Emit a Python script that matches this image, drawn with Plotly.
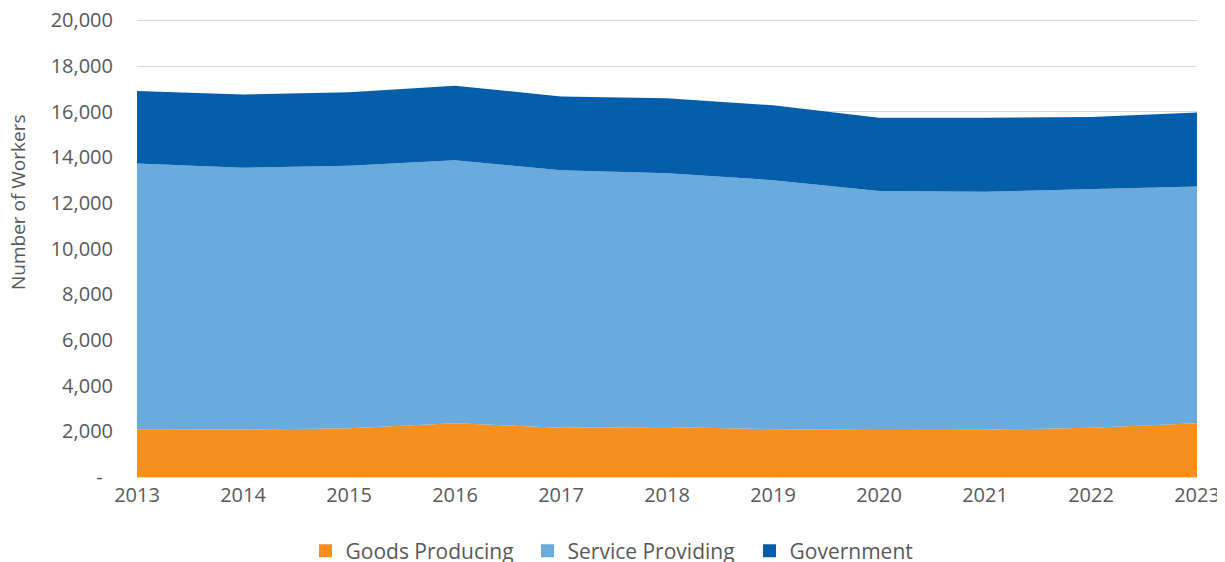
import plotly.graph_objects as go

years = [2013, 2014, 2015, 2016, 2017, 2018, 2019, 2020, 2021, 2022, 2023]
goods_producing = [2090, 2080, 2130, 2350, 2160, 2190, 2090, 2060, 2070, 2160, 2350]
service_providing = [11640, 11470, 11500, 11520, 11270, 11110, 10910, 10470, 10420, 10430, 10370]
government = [3180, 3200, 3220, 3270, 3240, 3290, 3280, 3200, 3240, 3180, 3250]

y_tick_vals = [0, 2000, 4000, 6000, 8000, 10000, 12000, 14000, 16000, 18000, 20000]
y_tick_text = ["-\u00a0\u00a0", "2,000", "4,000", "6,000", "8,000", "10,000", "12,000",
               "14,000", "16,000", "18,000", "20,000"]

series = [
    ("Goods Producing", goods_producing, "#F58F20"),
    ("Service Providing", service_providing, "#6BAADD"),
    ("Government", government, "#055EA9"),
]

# The page body adds an 8px offset; the figure is sized to fill the rest of the window.
W, H = 1217, 554
T, B = 11, 85

fig = go.Figure()
for name, vals, color in series:
    fig.add_trace(go.Scatter(
        x=years, y=vals, name=name, mode="lines",
        stackgroup="one", line=dict(width=0, color=color),
        fillcolor=color, hoverinfo="x+y+name", showlegend=False,
    ))
for name, vals, color in series:
    fig.add_trace(go.Scatter(
        x=[None], y=[None], name=name, mode="markers",
        marker=dict(symbol="square", size=13, color=color),
        showlegend=True, hoverinfo="skip",
    ))

font_family = "Open Sans, Liberation Sans, Arial, sans-serif"
fig.update_layout(
    width=W, height=H,
    margin=dict(l=129, r=28, t=T, b=B, autoexpand=False),
    paper_bgcolor="white", plot_bgcolor="white",
    font=dict(family=font_family, size=20, color="#595959"),
    showlegend=True,
    legend=dict(orientation="h", x=(638.5 - 8) / W, xanchor="center", xref="container",
                y=(H - 543) / H, yanchor="middle", yref="container",
                traceorder="normal", font=dict(size=21, color="#595959"),
                itemwidth=30, entrywidth=177, entrywidthmode="pixels"),
    xaxis=dict(range=[2013, 2023], tickvals=years, ticktext=[str(y) for y in years],
               showgrid=False, zeroline=False, showline=True, linecolor="#D9D9D9",
               linewidth=1, ticks="", automargin=False, ticklabeloverflow="allow",
               tickfont=dict(size=20, color="#595959")),
    yaxis=dict(range=[0, 20060], tickvals=y_tick_vals, ticktext=y_tick_text,
               showgrid=True, gridcolor="#D9D9D9", gridwidth=1, zeroline=False,
               showline=False, ticks="", ticklabelstandoff=23, automargin=False,
               ticklabeloverflow="allow",
               tickfont=dict(size=20, color="#595959")),
    annotations=[dict(text="Number of Workers", textangle=-90,
                      xref="paper", yref="paper", x=-129 / (W - 129 - 28), xanchor="left",
                      xshift=-5,
                      y=(469 - 194) / (H - T - B), yanchor="middle",
                      showarrow=False, font=dict(size=19, color="#595959"))],
)

fig.write_html("out.html")
